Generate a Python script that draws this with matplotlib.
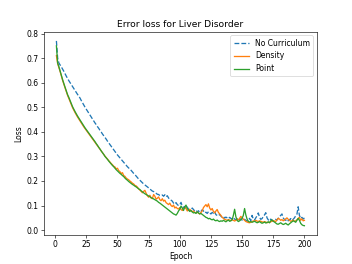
import matplotlib
matplotlib.use("Agg")
import matplotlib.pyplot as plt
import numpy as np

epochs = np.arange(1, 201)

no_curriculum = [
    0.770, 0.700, 0.680, 0.672, 0.664, 0.655, 0.646, 0.636, 0.626, 0.617,
    0.608, 0.600, 0.592, 0.584, 0.576, 0.568, 0.560, 0.552, 0.545, 0.537,
    0.527, 0.518, 0.509, 0.500, 0.492, 0.484, 0.476, 0.468, 0.460, 0.452,
    0.444, 0.436, 0.429, 0.421, 0.414, 0.406, 0.399, 0.391, 0.384, 0.377,
    0.370, 0.362, 0.355, 0.348, 0.341, 0.334, 0.327, 0.320, 0.313, 0.306,
    0.300, 0.294, 0.288, 0.282, 0.276, 0.270, 0.264, 0.258, 0.253, 0.248,
    0.243, 0.237, 0.231, 0.226, 0.220, 0.214, 0.208, 0.203, 0.198, 0.193,
    0.188, 0.184, 0.180, 0.176, 0.172, 0.168, 0.163, 0.159, 0.157, 0.153,
    0.150, 0.146, 0.145, 0.141, 0.140, 0.143, 0.138, 0.144, 0.136, 0.140,
    0.131, 0.125, 0.122, 0.118, 0.110, 0.106, 0.112, 0.104, 0.100, 0.103,
    0.113, 0.098, 0.092, 0.096, 0.088, 0.094, 0.085, 0.080, 0.083, 0.090,
    0.084, 0.078, 0.081, 0.074, 0.079, 0.072, 0.076, 0.083, 0.078, 0.070,
    0.073, 0.068, 0.075, 0.070, 0.066, 0.072, 0.069, 0.076, 0.063, 0.060,
    0.058, 0.064, 0.057, 0.052, 0.055, 0.049, 0.053, 0.050, 0.046, 0.052,
    0.048, 0.044, 0.050, 0.045, 0.042, 0.047, 0.040, 0.043, 0.046, 0.041,
    0.038, 0.044, 0.040, 0.036, 0.042, 0.048, 0.039, 0.060, 0.045, 0.041,
    0.050, 0.058, 0.070, 0.052, 0.044, 0.047, 0.055, 0.062, 0.071, 0.050,
    0.042, 0.038, 0.045, 0.040, 0.036, 0.039, 0.044, 0.041, 0.048, 0.055,
    0.060, 0.066, 0.050, 0.043, 0.040, 0.045, 0.038, 0.042, 0.047, 0.040,
    0.044, 0.050, 0.058, 0.065, 0.095, 0.060, 0.048, 0.052, 0.045, 0.050,
]

density = [
    0.710, 0.678, 0.662, 0.645, 0.627, 0.609, 0.593, 0.578, 0.563, 0.548,
    0.536, 0.523, 0.510, 0.498, 0.488, 0.478, 0.469, 0.460, 0.452, 0.444,
    0.436, 0.428, 0.420, 0.413, 0.406, 0.399, 0.392, 0.385, 0.378, 0.371,
    0.364, 0.357, 0.350, 0.343, 0.336, 0.329, 0.322, 0.315, 0.308, 0.301,
    0.295, 0.289, 0.283, 0.277, 0.271, 0.266, 0.260, 0.257, 0.249, 0.252,
    0.242, 0.238, 0.230, 0.234, 0.222, 0.219, 0.212, 0.208, 0.205, 0.200,
    0.196, 0.191, 0.188, 0.182, 0.180, 0.175, 0.168, 0.163, 0.158, 0.152,
    0.158, 0.162, 0.150, 0.140, 0.134, 0.142, 0.131, 0.128, 0.145, 0.138,
    0.126, 0.130, 0.135, 0.124, 0.120, 0.128, 0.118, 0.122, 0.112, 0.108,
    0.104, 0.110, 0.100, 0.096, 0.102, 0.090, 0.094, 0.088, 0.086, 0.092,
    0.084, 0.080, 0.086, 0.092, 0.088, 0.078, 0.082, 0.085, 0.079, 0.075,
    0.078, 0.072, 0.070, 0.074, 0.069, 0.066, 0.072, 0.078, 0.092, 0.098,
    0.104, 0.095, 0.107, 0.090, 0.082, 0.088, 0.076, 0.070, 0.078, 0.084,
    0.072, 0.066, 0.060, 0.052, 0.048, 0.044, 0.042, 0.040, 0.043, 0.041,
    0.039, 0.042, 0.040, 0.037, 0.040, 0.045, 0.042, 0.048, 0.056, 0.050,
    0.045, 0.040, 0.035, 0.033, 0.031, 0.030, 0.032, 0.034, 0.038, 0.036,
    0.040, 0.037, 0.035, 0.038, 0.036, 0.034, 0.032, 0.035, 0.033, 0.030,
    0.032, 0.031, 0.034, 0.036, 0.039, 0.037, 0.035, 0.042, 0.048, 0.045,
    0.040, 0.043, 0.038, 0.041, 0.046, 0.050, 0.044, 0.040, 0.036, 0.038,
    0.041, 0.035, 0.038, 0.042, 0.047, 0.052, 0.040, 0.046, 0.038, 0.040,
]

point = [
    0.750, 0.680, 0.665, 0.648, 0.630, 0.612, 0.596, 0.581, 0.566, 0.551,
    0.540, 0.527, 0.514, 0.502, 0.492, 0.482, 0.473, 0.464, 0.456, 0.448,
    0.440, 0.432, 0.424, 0.416, 0.409, 0.402, 0.395, 0.388, 0.381, 0.374,
    0.367, 0.360, 0.352, 0.345, 0.337, 0.330, 0.322, 0.315, 0.308, 0.300,
    0.294, 0.288, 0.281, 0.275, 0.269, 0.263, 0.258, 0.252, 0.246, 0.241,
    0.236, 0.231, 0.227, 0.222, 0.218, 0.212, 0.207, 0.203, 0.198, 0.194,
    0.190, 0.186, 0.183, 0.179, 0.176, 0.172, 0.168, 0.165, 0.160, 0.156,
    0.152, 0.148, 0.145, 0.142, 0.139, 0.136, 0.132, 0.130, 0.127, 0.124,
    0.121, 0.118, 0.113, 0.110, 0.106, 0.102, 0.098, 0.094, 0.090, 0.086,
    0.082, 0.078, 0.074, 0.070, 0.066, 0.064, 0.061, 0.068, 0.078, 0.085,
    0.098, 0.090, 0.080, 0.095, 0.102, 0.088, 0.082, 0.076, 0.080, 0.074,
    0.070, 0.072, 0.068, 0.074, 0.070, 0.066, 0.068, 0.064, 0.060, 0.056,
    0.052, 0.050, 0.046, 0.048, 0.044, 0.042, 0.045, 0.040, 0.038, 0.041,
    0.037, 0.035, 0.038, 0.036, 0.040, 0.037, 0.034, 0.038, 0.041, 0.036,
    0.038, 0.042, 0.060, 0.085, 0.055, 0.040, 0.035, 0.038, 0.042, 0.048,
    0.060, 0.088, 0.062, 0.045, 0.036, 0.033, 0.035, 0.032, 0.034, 0.036,
    0.033, 0.030, 0.032, 0.035, 0.031, 0.028, 0.030, 0.033, 0.029, 0.031,
    0.034, 0.030, 0.038, 0.042, 0.036, 0.033, 0.029, 0.025, 0.024, 0.027,
    0.030, 0.026, 0.023, 0.025, 0.028, 0.024, 0.021, 0.026, 0.030, 0.034,
    0.038, 0.036, 0.032, 0.040, 0.048, 0.040, 0.028, 0.022, 0.019, 0.018,
]

fig, ax = plt.subplots(figsize=(6.4, 4.8), dpi=55)

ax.plot(epochs, no_curriculum, '--', color='C0', lw=1.7, label='No Curriculum')
ax.plot(epochs, density, color='C1', lw=1.7, label='Density')
ax.plot(epochs, point, color='C2', lw=1.7, label='Point')

ax.set_xlabel("Epoch")
ax.set_ylabel("Loss")
ax.set_title("Error loss for Liver Disorder")
ax.legend(loc='upper right')

fig.savefig("out.png", dpi=55)
